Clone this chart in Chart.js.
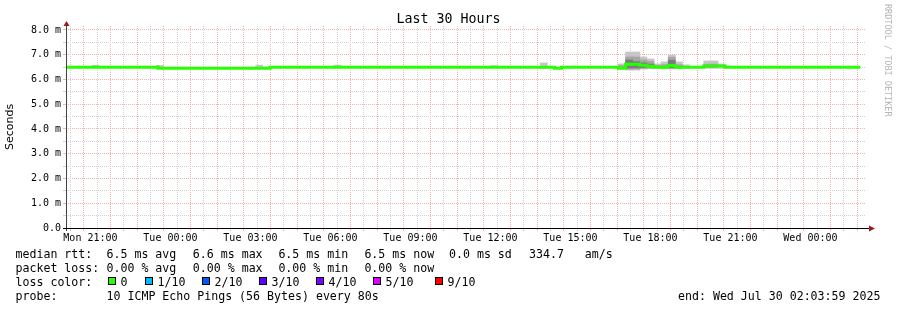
<!DOCTYPE html>
<html lang="en">
<head>
<meta charset="UTF-8">
<title>Last 30 Hours</title>
<script src="https://cdn.jsdelivr.net/npm/chart.js"></script>
<style>
  body { margin: 0; background: #fff; }
  #wrap { position: relative; width: 897px; height: 310px; font-family: 'DejaVu Sans Mono', monospace; color: #000; }
  #chart { position: absolute; left: 0; top: 0; }
  #title { position: absolute; left: 0; top: 11px; width: 897px; text-align: center; font-size: 13.3px; line-height: 16px; }
  #mark { position: absolute; left: 883px; top: 4px; writing-mode: vertical-rl; font-size: 8.5px; line-height: 10px; color: #b4b4b4; }
  .txt { position: absolute; white-space: pre; font-size: 11.6px; line-height: 14px; }
  .box { position: absolute; width: 6px; height: 6px; border: 1px solid #000; }
</style>
</head>
<body>
<div id="wrap">
  <canvas id="chart" width="897" height="310"></canvas>
  <div id="title">Last 30 Hours</div>
  <div id="mark">RRDTOOL / TOBI OETIKER</div>
  <div id="legend"></div>
</div>
<script>
// time range of the graph and axis labels
var rangeStart = 'Mon 20:05';
var rangeEnd = 'Wed 02:05';
var xTickLabels = ['Mon 21:00', 'Tue 00:00', 'Tue 03:00', 'Tue 06:00', 'Tue 09:00',
                   'Tue 12:00', 'Tue 15:00', 'Tue 18:00', 'Tue 21:00', 'Wed 00:00'];
var yTickLabels = ['0.0', '1.0 m', '2.0 m', '3.0 m', '4.0 m', '5.0 m', '6.0 m', '7.0 m', '8.0 m'];
var yTop = 8.16;

// median rtt (ms), each value holds until the next time
var medianTimes = ['Mon 20:05', 'Mon 23:32', 'Tue 03:44', 'Tue 14:24', 'Tue 14:40', 'Tue 16:48',
                   'Tue 17:04', 'Tue 17:36', 'Tue 17:52', 'Tue 18:08', 'Tue 18:40', 'Tue 18:56',
                   'Tue 20:00', 'Tue 20:48', 'Wed 01:52'];
var medianMs = [6.49, 6.45, 6.49, 6.45, 6.49, 6.45, 6.61, 6.57, 6.53, 6.49, 6.56, 6.49, 6.54, 6.49, 6.49];

// smoke (ping spread) per 16 min bin, ms
var smokeTimes = ['Mon 21:12', 'Mon 23:36', 'Tue 03:20', 'Tue 06:16', 'Tue 12:08', 'Tue 14:00',
                  'Tue 16:56', 'Tue 17:12', 'Tue 17:28', 'Tue 17:44', 'Tue 18:00', 'Tue 18:16',
                  'Tue 18:32', 'Tue 18:48', 'Tue 19:04', 'Tue 19:20', 'Tue 20:08', 'Tue 20:24', 'Tue 20:40'];
var outerLow  = [6.47, 6.47, 6.47, 6.47, 6.47, 6.45, 6.42, 6.38, 6.38, 6.42, 6.43, 6.44, 6.43, 6.42, 6.44, 6.45, 6.45, 6.45, 6.45];
var outerHigh = [6.57, 6.57, 6.58, 6.58, 6.56, 6.67, 6.63, 7.11, 7.11, 6.91, 6.83, 6.63, 6.71, 6.99, 6.71, 6.59, 6.75, 6.75, 6.63];
var midLow    = [null, null, null, null, null, null, 6.45, 6.42, 6.42, 6.45, 6.46, 6.47, 6.47, 6.45, 6.47, null, 6.48, 6.48, null];
var midHigh   = [null, null, null, null, null, null, 6.56, 6.91, 6.91, 6.79, 6.73, 6.56, 6.60, 6.90, 6.60, null, 6.62, 6.62, null];
var innerLow  = [null, null, null, null, null, null, null, 6.46, 6.47, 6.48, 6.49, null, null, 6.48, null, null, null, null, null];
var innerHigh = [null, null, null, null, null, null, null, 6.79, 6.72, 6.67, 6.62, null, null, 6.78, null, null, null, null, null];

// legend texts
var rttStats = ['6.5 ms avg', '6.6 ms max', '6.5 ms min', '6.5 ms now', '0.0 ms sd'];
var rttRate = '334.7   am/s';
var lossStats = ['0.00 % avg', '0.00 % max', '0.00 % min', '0.00 % now'];
var lossLabels = ['0', '1/10', '2/10', '3/10', '4/10', '5/10', '9/10'];
var lossColors = ['#26ff00', '#00b8ff', '#0059ff', '#5e00ff', '#7e00ff', '#dd00ff', '#ff0000'];
var probeText = '10 ICMP Echo Pings (56 Bytes) every 80s';
var endText = 'end: Wed Jul 30 02:03:59 2025';

function toHours(s) {
  var p = s.split(' ');
  var t = p[1].split(':');
  return ['Mon', 'Tue', 'Wed'].indexOf(p[0]) * 24 + Number(t[0]) + Number(t[1]) / 60;
}

function bars(lo, hi) {
  var out = [];
  for (var i = 0; i < smokeTimes.length; i++) {
    if (lo[i] !== null) out.push({ x: toHours(smokeTimes[i]), y: [lo[i], hi[i]] });
  }
  return out;
}

function smoke(lo, hi, color, order) {
  return {
    type: 'bar', data: bars(lo, hi), backgroundColor: color, borderWidth: 0,
    barPercentage: 1, categoryPercentage: 1, grouped: false, order: order
  };
}

var xLabelAt = {};
xTickLabels.forEach(function (l) { xLabelAt[toHours(l)] = l; });
var yLabelAt = {};
yTickLabels.forEach(function (l) { yLabelAt[parseFloat(l)] = l; });

var gridRed = '#f5b0b0';
var gridGrey = '#d2d2d2';
function gridColor(c) {
  return c.tick && c.tick.value % 1 === 0 ? gridRed : gridGrey;
}

var axesPlugin = {
  id: 'rrdAxes',
  afterDraw: function (chart) {
    var ctx = chart.ctx, a = chart.chartArea;
    ctx.save();
    ctx.lineWidth = 1;
    ctx.strokeStyle = '#444';
    ctx.beginPath(); ctx.moveTo(a.left + 0.5, a.bottom + 3); ctx.lineTo(a.left + 0.5, a.top); ctx.stroke();
    ctx.strokeStyle = '#000';
    ctx.beginPath(); ctx.moveTo(a.left - 3, a.bottom + 0.5); ctx.lineTo(a.right + 4, a.bottom + 0.5); ctx.stroke();
    ctx.fillStyle = '#9b1b1b';
    ctx.beginPath();
    ctx.moveTo(a.right + 3, a.bottom - 2.5); ctx.lineTo(a.right + 9, a.bottom + 0.5); ctx.lineTo(a.right + 3, a.bottom + 3.5);
    ctx.closePath(); ctx.fill();
    ctx.beginPath();
    ctx.moveTo(a.left - 2.5, a.top); ctx.lineTo(a.left + 0.5, a.top - 5); ctx.lineTo(a.left + 3.5, a.top);
    ctx.closePath(); ctx.fill();
    ctx.restore();
  }
};

Chart.defaults.font.family = "'DejaVu Sans Mono', monospace";
Chart.defaults.color = '#000';

new Chart(document.getElementById('chart'), {
  type: 'line',
  data: {
    datasets: [
      {
        data: medianTimes.map(function (t, i) { return { x: toHours(t), y: medianMs[i] }; }),
        borderColor: '#26ff00', borderWidth: 3, stepped: 'before', pointRadius: 0,
        borderCapStyle: 'butt', fill: false, order: 0
      },
      smoke(innerLow, innerHigh, '#7c7c7c', 1),
      smoke(midLow, midHigh, '#a6a6a6', 2),
      smoke(outerLow, outerHigh, '#c6c6c6', 3)
    ]
  },
  options: {
    responsive: false,
    devicePixelRatio: 1,
    animation: false,
    layout: { padding: { left: 0, right: 31, top: 26, bottom: 0 } },
    plugins: { legend: { display: false }, tooltip: { enabled: false } },
    scales: {
      x: {
        type: 'linear', offset: false,
        min: toHours(rangeStart), max: toHours(rangeEnd),
        afterBuildTicks: function (scale) {
          var ticks = [];
          for (var v = Math.ceil(scale.min * 2) / 2; v <= scale.max; v += 0.5) ticks.push({ value: v });
          scale.ticks = ticks;
        },
        afterFit: function (scale) { scale.height = 82; },
        grid: { color: gridColor, lineWidth: 1, tickLength: 3 },
        border: { display: false, dash: [1, 1] },
        ticks: {
          autoSkip: false, maxRotation: 0, padding: 1, font: { size: 10 },
          callback: function (v) { return xLabelAt[v] || ''; }
        }
      },
      y: {
        min: 0, max: yTop,
        afterBuildTicks: function (scale) {
          var ticks = [];
          for (var v = 0; v <= 8; v += 0.5) ticks.push({ value: v });
          scale.ticks = ticks;
        },
        afterFit: function (scale) { scale.width = 66; },
        grid: { color: gridColor, lineWidth: 1, tickLength: 3 },
        border: { display: false, dash: [1, 1] },
        ticks: {
          autoSkip: false, padding: 2, font: { size: 10 },
          callback: function (v) { return yLabelAt[v] !== undefined ? yLabelAt[v] : ''; }
        },
        title: {
          display: true, text: 'Seconds', padding: { top: 3.5, bottom: 0 },
          font: { family: "'DejaVu Sans', sans-serif", size: 11 }
        }
      }
    }
  },
  plugins: [axesPlugin]
});

// legend lines below the graph
var legend = document.getElementById('legend');
function put(text, x, top) {
  var d = document.createElement('div');
  d.className = 'txt';
  d.style.left = x + 'px';
  d.style.top = top + 'px';
  d.textContent = text;
  legend.appendChild(d);
}
var statX = [106.5, 192.8, 278.4, 364.4, 449];
put('median rtt:', 15.5, 247);
rttStats.forEach(function (s, i) { put(s, statX[i], 247); });
put(rttRate, 529, 247);
put('packet loss:', 15.5, 261);
lossStats.forEach(function (s, i) { put(s, statX[i], 261); });
put('loss color:', 15.5, 275);
var boxX = [108, 145, 202, 259, 316, 373, 435];
lossLabels.forEach(function (l, i) {
  var b = document.createElement('div');
  b.className = 'box';
  b.style.left = boxX[i] + 'px';
  b.style.top = '277px';
  b.style.background = lossColors[i];
  legend.appendChild(b);
  put(l, boxX[i] + 12.5, 275);
});
put('probe:', 15.5, 289);
put(probeText, 106.5, 289);
put(endText, 678, 289);
</script>
</body>
</html>
